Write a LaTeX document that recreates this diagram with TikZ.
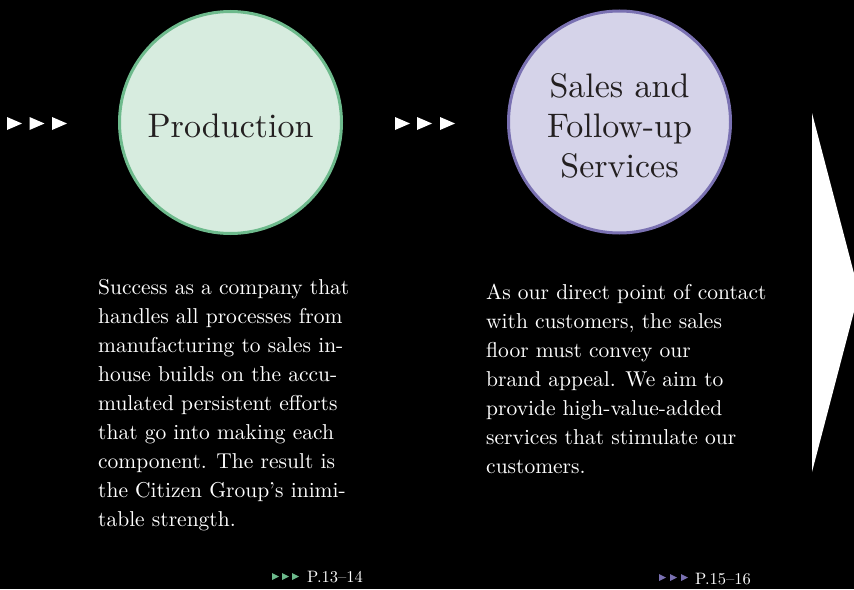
\documentclass[tikz,border=0pt]{standalone}
\usepackage{fontspec}
\setmainfont{lmroman10-regular.otf}
\usetikzlibrary{positioning, calc}

\definecolor{prodfill}{HTML}{D7ECDF}
\definecolor{prodline}{HTML}{6DBA8C}
\definecolor{salesfill}{HTML}{D5D3E9}
\definecolor{salesline}{HTML}{7A71B2}
\definecolor{inktext}{HTML}{231F20}

\begin{document}
\begin{tikzpicture}[
        x=1pt, y=-1pt,
        % 1. Stage circles
        stage/.style={
                circle,
                line width=3pt,
                minimum size=222pt,
                inner sep=0pt
            },
        % 2. Stage names inside the circles
        stagename/.style={
                align=center,
                inner sep=0pt,
                text=inktext,
                font=\fontsize{34}{40}\selectfont
            },
        % 3. Description text under the circles
        desc/.style={
                anchor=north west,
                align=left,
                inner sep=0pt,
                text=white,
                font=\fontsize{21.5}{29}\selectfont
            },
        % 4. Page references
        pagelink/.style={
                anchor=base west,
                inner sep=0pt,
                text=white,
                font=\fontsize{16.5}{18}\selectfont
            }
    ]

    % Background
    \path[use as bounding box, fill=black] (0,0) rectangle (854,589);
    \clip (0,0) rectangle (854,589);

    % 1. Triple arrows
    \foreach \x in {7,29.5,52}
    \fill[white] (\x,117) -- ++(15,6.5) -- ++(-15,6.5) -- cycle;
    \foreach \x in {395,417,440}
    \fill[white] (\x,117) -- ++(15,6.5) -- ++(-15,6.5) -- cycle;

    % 2. Circles
    \node[stage, fill=prodfill, draw=prodline] (production) at (230.5,122.5) {};
    \node[stage, fill=salesfill, draw=salesline] (sales) at (619.5,122) {};
    \node[stagename] (prodname) at ($(production)+(0,3)$) {Production};
    \node[stagename] (salesname) at ($(sales)+(0,4)$) {Sales and\\Follow-up\\Services};

    % 3. Descriptions
    \node[desc] (proddesc) at (98,279.5) {
        Success as a company that\\
        handles all processes from\\
        manufacturing to sales in-\\
        house builds on the accu-\\
        mulated persistent efforts\\
        that go into making each\\
        component. The result is\\
        the Citizen Group’s inimi-\\
        table strength.
    };
    \node[desc] (salesdesc) at (486,283.5) {
        As our direct point of contact\\
        with customers, the sales\\
        floor must convey our\\
        brand appeal. We aim to\\
        provide high-value-added\\
        services that stimulate our\\
        customers.
    };

    % 4. Page references
    \foreach \x in {272,282,292}
    \fill[prodline] (\x,573) -- ++(7,3.5) -- ++(-7,3.5) -- cycle;
    \node[pagelink] (prodpage) at (307,582) {P.13--14};
    \foreach \x in {659,670,681}
    \fill[salesline] (\x,574) -- ++(7,3.5) -- ++(-7,3.5) -- cycle;
    \node[pagelink] (salespage) at (695,584) {P.15--16};

    % 5. Big arrow on the right
    \fill[white] (812,113) -- (859,292.5) -- (812,472) -- cycle;

\end{tikzpicture}
\end{document}
